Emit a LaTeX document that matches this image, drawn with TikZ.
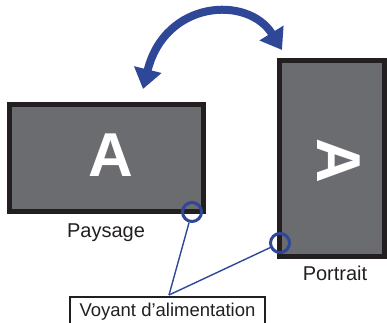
\documentclass[tikz,border=0pt]{standalone}
\usepackage{fontspec}
\setmainfont{Liberation Sans}
\usetikzlibrary{arrows.meta}
\definecolor{scr}{HTML}{6B6C70}
\definecolor{frm}{HTML}{231F20}
\definecolor{blu}{HTML}{2E4797}
\tikzset{
  screen/.style={draw=frm, fill=scr, line width=5pt, inner sep=0pt},
  bigA/.style={text=white, font=\fontsize{62}{62}\selectfont\bfseries, inner sep=0pt},
  lbl/.style={font=\fontsize{20}{20}\selectfont, anchor=base, inner sep=0pt, text=frm},
  led/.style={circle, draw=blu, line width=3pt, minimum size=19pt, inner sep=0pt},
  leader/.style={draw=blu, line width=1.4pt},
  rotarrow/.style={draw=blu, line width=8pt, {Triangle[length=20pt,width=27pt]}-{Triangle[length=20pt,width=27pt]}, blu}
}
\begin{document}
\begin{tikzpicture}[x=1pt,y=-1pt]
\useasboundingbox (0,0) rectangle (387,322);
\begin{scope}
\clip (0,0) rectangle (387,322);
% screens
\node[screen, minimum width=194pt, minimum height=107pt] (land) at (106.5,158) {};
\node[bigA] (la) at (111,155.5) {A};
\node[screen, minimum width=105pt, minimum height=196pt] (port) at (332,158.5) {};
\node[bigA, rotate=-90] (pa) at (339,161) {A};
% labels
\node[lbl] (pays) at (106,237) {Paysage};
\node[lbl] (portl) at (335,280) {Portrait};
% box
\node[draw=frm, line width=2pt, minimum width=195pt, inner xsep=0pt, inner ysep=0pt,
      text height=19pt, text depth=20pt, anchor=north,
      font=\fontsize{18.5}{18.5}\selectfont, text=frm] (box) at (167.5,296) {Voyant d’alimentation};
\coordinate (apex) at (169,295);
% LEDs
\node[led] (c1) at (192,212) {};
\node[led] (c2) at (280,243) {};
\draw[leader] (c1) -- (apex);
\draw[leader] (c2) -- (apex);
% rotation arrow
\draw[rotarrow] (143,89) .. controls (165,0) and (248,-5) .. (282,50);
\end{scope}
\end{tikzpicture}
\end{document}
